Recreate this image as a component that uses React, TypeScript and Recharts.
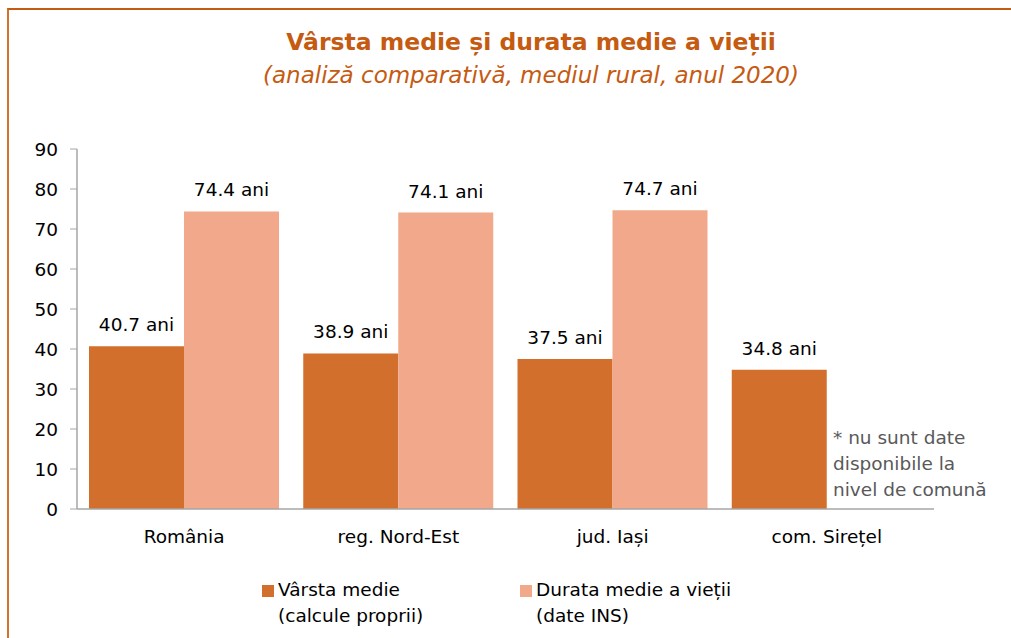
import React from 'react';
import { BarChart, Bar, XAxis, YAxis, LabelList } from 'recharts';

const categories = ['România', 'reg. Nord-Est', 'jud. Iași', 'com. Sirețel'];
const varstaMedie = [40.7, 38.9, 37.5, 34.8];
const durataMedie: (number | null)[] = [74.4, 74.1, 74.7, null];
const yTicks = [0, 10, 20, 30, 40, 50, 60, 70, 80, 90];

const seriesInfo = [
  { key: 'varsta', line1: 'Vârsta medie', line2: '(calcule proprii)', color: '#D36F2C' },
  { key: 'durata', line1: 'Durata medie a vieții', line2: '(date INS)', color: '#F2A88A' },
];

const font = '"DejaVu Sans", Tahoma, sans-serif';
const fs = 18.5;

const chartData = categories.map((name, i) => ({
  name,
  varsta: varstaMedie[i],
  durata: durataMedie[i],
}));

const fmtAni = (v: any) => (v == null ? '' : `${v} ani`);

export default function App() {
  return (
    <div
      style={{
        position: 'absolute',
        left: 0,
        top: 0,
        width: 1011,
        height: 638,
        background: '#fff',
        fontFamily: font,
        overflow: 'hidden',
      }}
    >
      {/* frame */}
      <div
        style={{
          position: 'absolute',
          left: 7,
          top: 8,
          width: 1020,
          height: 700,
          borderTop: '2px solid #C55A11',
          borderLeft: '2px solid #D4722E',
        }}
      />
      <div
        style={{
          position: 'absolute',
          left: 0,
          width: 1062,
          top: 25,
          textAlign: 'center',
          color: '#C55A11',
          fontWeight: 'bold',
          fontSize: 23.5,
          lineHeight: '34px',
        }}
      >
        Vârsta medie și durata medie a vieții
      </div>
      <div
        style={{
          position: 'absolute',
          left: 0,
          width: 1062,
          top: 58,
          textAlign: 'center',
          color: '#C55A11',
          fontStyle: 'italic',
          fontSize: 23,
          lineHeight: '34px',
        }}
      >
        (analiză comparativă, mediul rural, anul 2020)
      </div>

      <BarChart
        width={1011}
        height={638}
        data={chartData}
        margin={{ top: 149, right: 77, left: 17, bottom: 99 }}
        barCategoryGap={12}
        barGap={0}
        style={{ position: 'absolute', left: 0, top: 0 }}
      >
        <XAxis
          dataKey="name"
          tickLine={false}
          axisLine={{ stroke: '#A6A6A6', strokeWidth: 1.5 }}
          tick={{ fontSize: fs, fill: '#000', fontFamily: font }}
          tickMargin={15}
          height={30}
        />
        <YAxis
          width={60}
          domain={[0, 90]}
          ticks={yTicks}
          interval={0}
          tickSize={7}
          tickMargin={12}
          tickLine={{ stroke: '#A6A6A6' }}
          axisLine={{ stroke: '#A6A6A6', strokeWidth: 1.5 }}
          tick={{ fontSize: fs, fill: '#000', fontFamily: font }}
        />
        <Bar dataKey="varsta" fill={seriesInfo[0].color} isAnimationActive={false}>
          <LabelList
            dataKey="varsta"
            position="top"
            offset={15}
            formatter={fmtAni}
            style={{ fontSize: fs, fill: '#000', fontFamily: font }}
          />
        </Bar>
        <Bar dataKey="durata" fill={seriesInfo[1].color} isAnimationActive={false}>
          <LabelList
            dataKey="durata"
            position="top"
            offset={15}
            formatter={fmtAni}
            style={{ fontSize: fs, fill: '#000', fontFamily: font }}
          />
        </Bar>
      </BarChart>

      {/* note for missing data */}
      <div
        style={{
          position: 'absolute',
          left: 833,
          top: 425,
          color: '#595959',
          fontSize: fs,
          lineHeight: '26px',
        }}
      >
        * nu sunt date
        <br />
        disponibile la
        <br />
        nivel de comună
      </div>

      {/* legend */}
      {seriesInfo.map((s, i) => (
        <div
          key={s.key}
          style={{
            position: 'absolute',
            left: i === 0 ? 262 : 520,
            top: 577,
            display: 'flex',
            alignItems: 'flex-start',
            fontSize: fs,
            lineHeight: '26px',
            color: '#000',
          }}
        >
          <div
            style={{
              width: 12,
              height: 12,
              background: s.color,
              marginTop: 8,
              marginRight: 4,
            }}
          />
          <div>
            {s.line1}
            <br />
            {s.line2}
          </div>
        </div>
      ))}
    </div>
  );
}
